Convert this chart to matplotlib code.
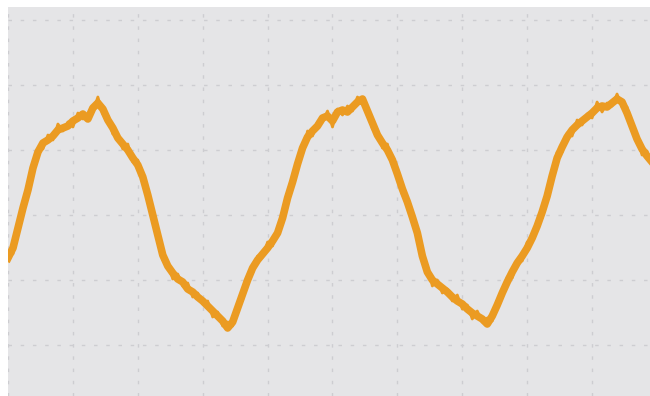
import numpy as np
import matplotlib
matplotlib.use("Agg")
import matplotlib.pyplot as plt

# scope trace, one sample every 5 px-ish; 13 samples per division, 65 units per division
volts = [-43, -33, -13, 7, 25, 47, 63, 72, 75, 79, 85, 87, 89, 94, 97, 101, 96, 107, 112, 106,
         95, 87, 77, 71, 65, 57, 50, 38, 20, 0, -20, -40, -51, -58, -64, -67, -74, -77, -82, -86,
         -91, -96, -101, -106, -113, -107, -93, -79, -65, -53, -45, -39, -33, -26, -18, -3, 17, 33, 51, 67,
         78, 84, 89, 97, 99, 94, 103, 105, 103, 108, 113, 116, 104, 92, 80, 72, 65, 55, 41, 26,
         13, -2, -18, -41, -57, -65, -69, -73, -77, -82, -86, -89, -94, -98, -101, -104, -109, -101, -90, -78,
         -67, -57, -48, -41, -33, -23, -11, 3, 19, 39, 57, 68, 78, 85, 90, 94, 98, 102, 107, 109,
         108, 112, 116, 113, 102, 89, 76, 66, 59, 53]
# ragged edge of the trace (noise), same samples
noise = [5, -6, 4, -3, 6, -5, 3, -6, 5, -4,
         6, -3, 4, -6, 5, -5, 3, -4, 6, -5,
         4, -6, 3, -5, 6, -4, 5, -3, 6, -6,
         4, -5, 3, -6, 5, -4, 6, -5, 4, -3,
         5, -6, 4, -5, 6, -4, 3, -6, 5, -5,
         4, -3, 6, -5, 4, -6, 5, -4, 3, -6,
         6, -5, 4, -4, 5, -6, 3, -5, 6, -4,
         5, -3, 4, -6, 5, -5, 6, -4, 3, -6,
         4, -5, 5, -3, 6, -6, 4, -5, 3, -4,
         6, -5, 4, -6, 5, -3, 6, -5, 4, -4,
         5, -6, 3, -5, 6, -4, 4, -6, 5, -3,
         6, -5, 4, -6, 5, -4, 3, -5, 6, -6,
         4, -3, 5, -5, 6, -4, 4, -6, 5, -3]
sample = np.arange(len(volts))

x_grid = [0, 13, 26, 39, 52, 65, 78, 91, 104, 117]
y_grid = [-130, -65, 0, 65, 130, 195]

fig = plt.figure(figsize=(6.5, 3.96), dpi=100)
fig.patch.set_facecolor("white")
ax = fig.add_axes([8 / 650, 0, 642 / 650, 389 / 396])
ax.set_facecolor("#e5e5e7")

orange = "#eb9b22"
ax.plot(sample, volts, color=orange, lw=5.5, solid_joinstyle="round", zorder=3)
ax.plot(sample, np.array(volts) + np.array(noise), color=orange, lw=2, zorder=3)

ax.set_xlim(0, 128.6)
ax.set_ylim(-181, 208)
ax.set_xticks(x_grid)
ax.set_yticks(y_grid)
ax.tick_params(length=0, labelbottom=False, labelleft=False)
ax.grid(True, color="#cdcdd1", linestyle=(0, (2.5, 6.3)), linewidth=1.0)
for s in ax.spines.values():
    s.set_visible(False)

fig.savefig("out.png", dpi=100)
